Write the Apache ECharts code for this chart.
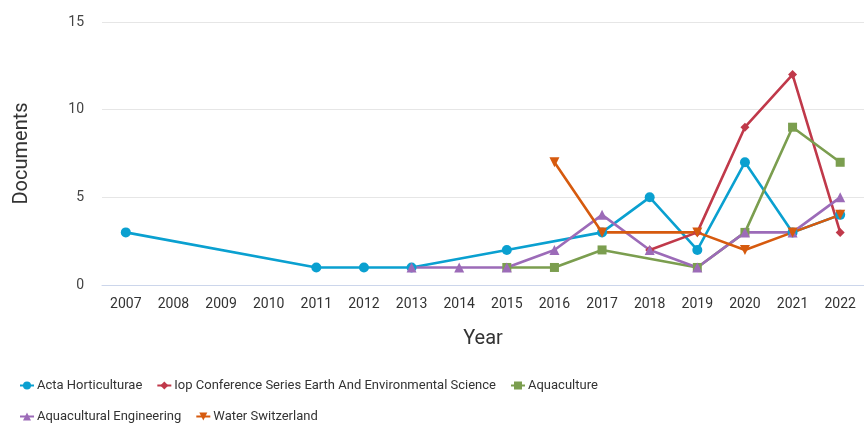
<!DOCTYPE html>
<html><head><meta charset="utf-8">
<script src="https://cdn.jsdelivr.net/npm/echarts@6/dist/echarts.min.js"></script>
<style>html,body{margin:0;padding:0;background:#fff}#c{width:864px;height:424px}</style>
</head><body><div id="c"></div>
<script>
const years = ['2007','2008','2009','2010','2011','2012','2013','2014','2015','2016','2017','2018','2019','2020','2021','2022'];
const actaHorticulturae = [3,null,null,null,1,1,1,null,2,null,3,5,2,7,3,4];
const iopConference = [null,null,null,null,null,null,null,null,null,null,null,2,3,9,12,3];
const aquaculture = [null,null,null,null,null,null,null,null,1,1,2,null,1,3,9,7];
const aquaculturalEngineering = [null,null,null,null,null,null,1,1,1,2,4,2,1,3,3,5];
const waterSwitzerland = [null,null,null,null,null,null,null,null,null,7,3,null,3,2,3,4];
const yTicks = [0,5,10,15];

const FONT = 'Roboto, "Liberation Sans", sans-serif';
const chart = echarts.init(document.getElementById('c'), null, {renderer:'canvas'});
function s(name, data, color, symbol, size, rot){
  return {name, type:'line', data, connectNulls:true, symbol, symbolSize:size, symbolRotate:rot||0,
    showSymbol:true, itemStyle:{color}, lineStyle:{color, width:2.6}, emphasis:{disabled:true}};
}
chart.setOption({
  animation:false,
  textStyle:{fontFamily:FONT},
  grid:{left:102, right:-1, top:22, bottom:139, containLabel:false},
  xAxis:{type:'category', data:years, boundaryGap:true,
    name:'Year', nameLocation:'middle', nameGap:44,
    nameTextStyle:{fontSize:20, color:'#333', fontFamily:FONT},
    axisLine:{lineStyle:{color:'#ccd6eb', width:1}}, axisTick:{show:false},
    axisLabel:{fontSize:14, color:'#333', margin:12, fontFamily:FONT, interval:0}},
  yAxis:{type:'value', min:yTicks[0], max:yTicks[yTicks.length-1], interval:5,
    name:'Documents', nameLocation:'middle', nameGap:70,
    nameTextStyle:{fontSize:20, color:'#333', fontFamily:FONT},
    axisLine:{show:false}, axisTick:{show:false},
    axisLabel:{fontSize:14, color:'#444', margin:18, fontFamily:FONT},
    splitLine:{lineStyle:{color:'#e6e6e6', width:1}}},
  legend:{left:14, top:372, width:600, itemGap:14, itemWidth:14, itemHeight:10,
    textStyle:{fontSize:13, lineHeight:17, color:'#333', fontFamily:FONT, padding:[0,0,0,-2]},
    data:['Acta Horticulturae','Iop Conference Series Earth And Environmental Science','Aquaculture','Aquacultural Engineering','Water Switzerland']},
  series:[
    s('Acta Horticulturae', actaHorticulturae, '#0aa0d0', 'circle', 10),
    s('Iop Conference Series Earth And Environmental Science', iopConference, '#c0394a', 'diamond', 9),
    s('Aquaculture', aquaculture, '#7b9e4f', 'rect', 9),
    s('Aquacultural Engineering', aquaculturalEngineering, '#9c6bb8', 'triangle', 10),
    s('Water Switzerland', waterSwitzerland, '#d65a0e', 'triangle', 10, 180)
  ]
});
</script></body></html>
